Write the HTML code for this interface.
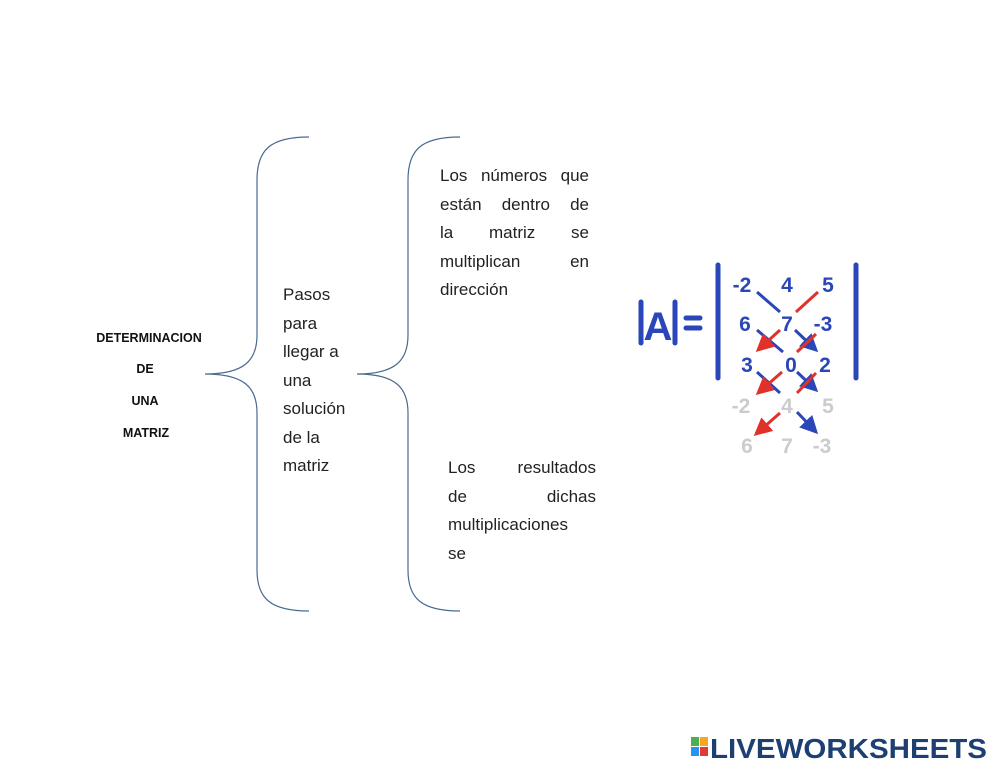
<!DOCTYPE html>
<html><head><meta charset="utf-8"><style>
body{margin:0;background:#fff;width:999px;height:772px;overflow:hidden;position:relative;font-family:"Liberation Sans",sans-serif}
.t{position:absolute;font-size:17px;line-height:28.5px;color:#222}
.t div{text-align:justify;text-align-last:justify;height:28.5px;white-space:nowrap}
.t div.l{text-align-last:left}
</style></head><body>
<svg width="999" height="772" style="position:absolute;left:0;top:0" font-family="Liberation Sans, sans-serif">
<defs>
<marker id="bb" markerWidth="6" markerHeight="6" refX="5" refY="3" orient="auto" markerUnits="strokeWidth"><path d="M0,0 L6,3 L0,6z" fill="#2a46b8"/></marker>
<marker id="rr" markerWidth="6" markerHeight="6" refX="5" refY="3" orient="auto" markerUnits="strokeWidth"><path d="M0,0 L6,3 L0,6z" fill="#e0312b"/></marker>
</defs>
<g fill="none" stroke="#4a6a90" stroke-width="1.2">
<path d="M309,137 C270,137 257,150 257,180 L257,335 C257,360 245,374 205,374 C245,374 257,388 257,413 L257,570 C257,598 270,611 309,611"/>
<path d="M460,137 C421,137 408,150 408,180 L408,335 C408,360 396,374 357,374 C396,374 408,388 408,413 L408,570 C408,598 421,611 460,611"/>
</g>
<g font-weight="bold" font-size="12.5" fill="#111" text-anchor="middle">
<text x="149" y="342">DETERMINACION</text>
<text x="145" y="373">DE</text>
<text x="145" y="405">UNA</text>
<text x="146" y="437">MATRIZ</text>
</g>
<g stroke="#2a46b8" stroke-width="5" stroke-linecap="round">
<line x1="718" y1="265" x2="718" y2="378"/><line x1="856" y1="265" x2="856" y2="378"/>
<line x1="641" y1="302" x2="641" y2="343"/><line x1="675" y1="302" x2="675" y2="343"/>
<line x1="686" y1="318" x2="700" y2="318"/><line x1="686" y1="328" x2="700" y2="328"/>
</g>
<text x="658" y="340" font-size="40" font-weight="bold" fill="#2a46b8" text-anchor="middle">A</text>
<g stroke-width="3" fill="none">
<g stroke="#2a46b8"><line x1="757" y1="292" x2="780" y2="312"/><line x1="795" y1="330" x2="816" y2="350" marker-end="url(#bb)"/>
<line x1="757" y1="330" x2="783" y2="352"/><line x1="797" y1="372" x2="816" y2="390" marker-end="url(#bb)"/>
<line x1="757" y1="372" x2="780" y2="393"/><line x1="797" y1="412" x2="816" y2="432" marker-end="url(#bb)"/></g>
<g stroke="#e0312b"><line x1="818" y1="292" x2="796" y2="312"/><line x1="780" y1="330" x2="758" y2="350" marker-end="url(#rr)"/>
<line x1="816" y1="334" x2="797" y2="352"/><line x1="782" y1="372" x2="758" y2="393" marker-end="url(#rr)"/>
<line x1="816" y1="373" x2="797" y2="393"/><line x1="780" y1="413" x2="756" y2="434" marker-end="url(#rr)"/></g>
</g>
<g font-size="21" font-weight="bold" text-anchor="middle">
<g fill="#2a46b8"><text x="742" y="292">-2</text><text x="787" y="292">4</text><text x="828" y="292">5</text>
<text x="745" y="331">6</text><text x="787" y="331">7</text><text x="823" y="331">-3</text>
<text x="747" y="372">3</text><text x="791" y="372">0</text><text x="825" y="372">2</text></g>
<g fill="#ccc"><text x="741" y="413">-2</text><text x="787" y="413">4</text><text x="828" y="413">5</text>
<text x="747" y="453">6</text><text x="787" y="453">7</text><text x="822" y="453">-3</text></g>
</g>
<g>
<rect x="691" y="737" width="8" height="9" fill="#4caf50"/><rect x="700" y="737" width="8" height="9" fill="#f5a623"/>
<rect x="691" y="747" width="8" height="9" fill="#2196f3"/><rect x="700" y="747" width="8" height="9" fill="#e53935"/>
<text x="710" y="758" font-size="28" font-weight="bold" fill="#1d3f72" textLength="277" lengthAdjust="spacingAndGlyphs">LIVEWORKSHEETS</text>
</g>
</svg>
<div class="t" style="left:283px;top:281px;width:80px"><div class="l">Pasos</div><div class="l">para</div><div class="l">llegar a</div><div class="l">una</div><div class="l">solución</div><div class="l">de la</div><div class="l">matriz</div></div>
<div class="t" style="left:440px;top:162px;width:149px"><div>Los números que</div><div>están dentro de</div><div>la matriz se</div><div>multiplican en</div><div class="l">dirección</div></div>
<div class="t" style="left:448px;top:454px;width:148px"><div>Los resultados</div><div>de dichas</div><div>multiplicaciones</div><div class="l">se</div></div>
</body></html>
